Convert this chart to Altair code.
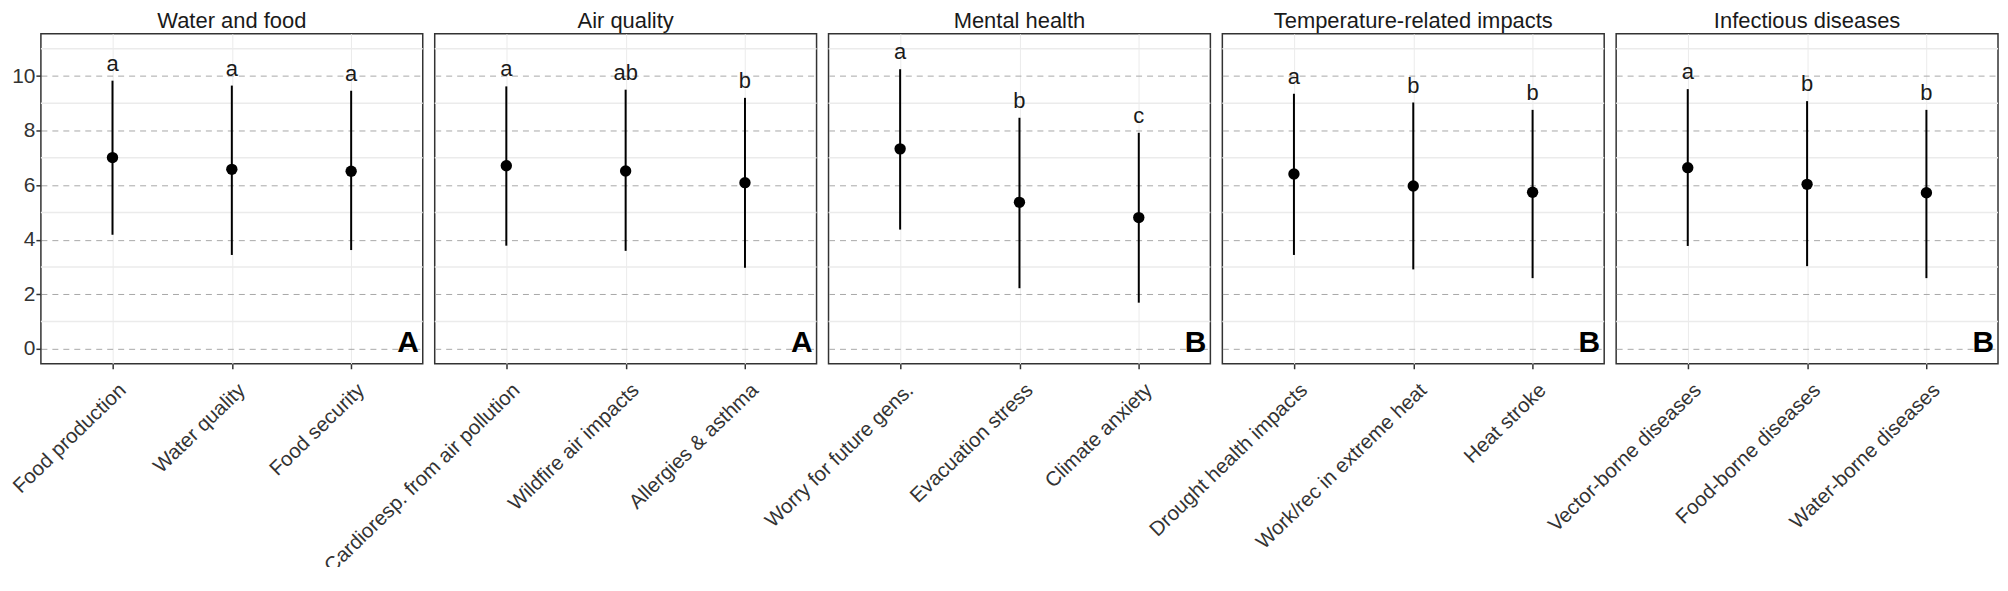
import altair as alt
import pandas as pd

panels = ["Water and food", "Air quality", "Mental health",
          "Temperature-related impacts", "Infectious diseases"]
panel_letters = ["A", "A", "B", "B", "B"]
items = [
    ["Food production", "Water quality", "Food security"],
    ["Cardioresp. from air pollution", "Wildfire air impacts", "Allergies & asthma"],
    ["Worry for future gens.", "Evacuation stress", "Climate anxiety"],
    ["Drought health impacts", "Work/rec in extreme heat", "Heat stroke"],
    ["Vector-borne diseases", "Food-borne diseases", "Water-borne diseases"],
]
means = [[7.01, 6.58, 6.51], [6.71, 6.52, 6.09], [7.33, 5.37, 4.81],
         [6.41, 5.97, 5.74], [6.64, 6.03, 5.72]]
highs = [[9.83, 9.65, 9.46], [9.62, 9.50, 9.20], [10.25, 8.47, 7.92],
         [9.35, 9.03, 8.76], [9.52, 9.08, 8.76]]
lows = [[4.18, 3.44, 3.62], [3.78, 3.59, 2.97], [4.37, 2.22, 1.69],
        [3.44, 2.91, 2.59], [3.77, 3.03, 2.59]]
sig_letters = [["a", "a", "a"], ["a", "ab", "b"], ["a", "b", "c"],
               ["a", "b", "b"], ["a", "b", "b"]]
major_ticks = [0, 2, 4, 6, 8, 10]
minor_ticks = [1, 3, 5, 7, 9, 11]

W, H = 383, 331
FONT = "Liberation Sans"
yscale = alt.Scale(domain=[-0.55, 11.55], nice=False, zero=False)

charts = []
for i in range(len(panels)):
    df = pd.DataFrame({"item": items[i], "mean": means[i], "lo": lows[i],
                       "hi": highs[i], "sig": sig_letters[i]})
    first = i == 0
    yaxis = alt.Axis(values=major_ticks, title=None, grid=True, gridDash=[6, 5],
                     gridColor="#a8a8a8", gridWidth=1, labels=first, ticks=first,
                     domain=False, tickSize=5, tickWidth=1.5, tickColor="#333333",
                     labelPadding=1, labelFontSize=21, labelColor="#333333",
                     labelFont=FONT)
    xaxis = alt.Axis(title=None, labelAngle=316, labelAlign="right",
                     labelBaseline="top", labelPadding=11, labelOffset=3,
                     labelFontSize=20.5, labelColor="#333333", labelFont=FONT,
                     labelLimit=0,
                     grid=True, gridColor="#ebebeb", gridWidth=1, domain=False,
                     tickSize=5, tickWidth=1.5, tickColor="#333333")
    xenc = alt.X("item:N", sort=items[i],
                 scale=alt.Scale(type="point", padding=0.6), axis=xaxis)
    base = alt.Chart(df)
    minor = alt.Chart(pd.DataFrame({"v": minor_ticks})).mark_rule(
        color="#ebebeb", strokeWidth=1.5).encode(
        y=alt.Y("v:Q", scale=yscale, axis=yaxis))
    bars = base.mark_rule(color="black", strokeWidth=2).encode(
        x=xenc, y=alt.Y("lo:Q", scale=yscale, axis=yaxis), y2="hi:Q")
    pts = base.mark_point(filled=True, size=130, color="black", opacity=1).encode(
        x=xenc, y=alt.Y("mean:Q", scale=yscale, axis=yaxis))
    txt = base.mark_text(fontSize=22, color="#1a1a1a", baseline="alphabetic",
                         dy=-10, font=FONT).encode(
        x=xenc, y=alt.Y("hi:Q", scale=yscale, axis=yaxis), text="sig:N")
    corner = alt.Chart(pd.DataFrame({"g": [panel_letters[i]]})).mark_text(
        fontSize=30, fontWeight="bold", color="black", align="right",
        baseline="alphabetic", font=FONT).encode(
        x=alt.value(W - 4), y=alt.value(H - 12), text="g:N")
    layer = alt.layer(minor, bars, pts, txt, corner).properties(
        width=W, height=H,
        title=alt.TitleParams(panels[i], fontSize=22, fontWeight="normal",
                              color="#1a1a1a", font=FONT, offset=1,
                              anchor="middle"))
    charts.append(layer)

chart = alt.hconcat(*charts, spacing=12, bounds="flush").configure_view(
    stroke="#333333", strokeWidth=1.5).properties(
    padding={"left": 0, "top": 0, "right": 0, "bottom": -12})

chart.save("out.html", embed_options={"renderer": "svg", "actions": False})
